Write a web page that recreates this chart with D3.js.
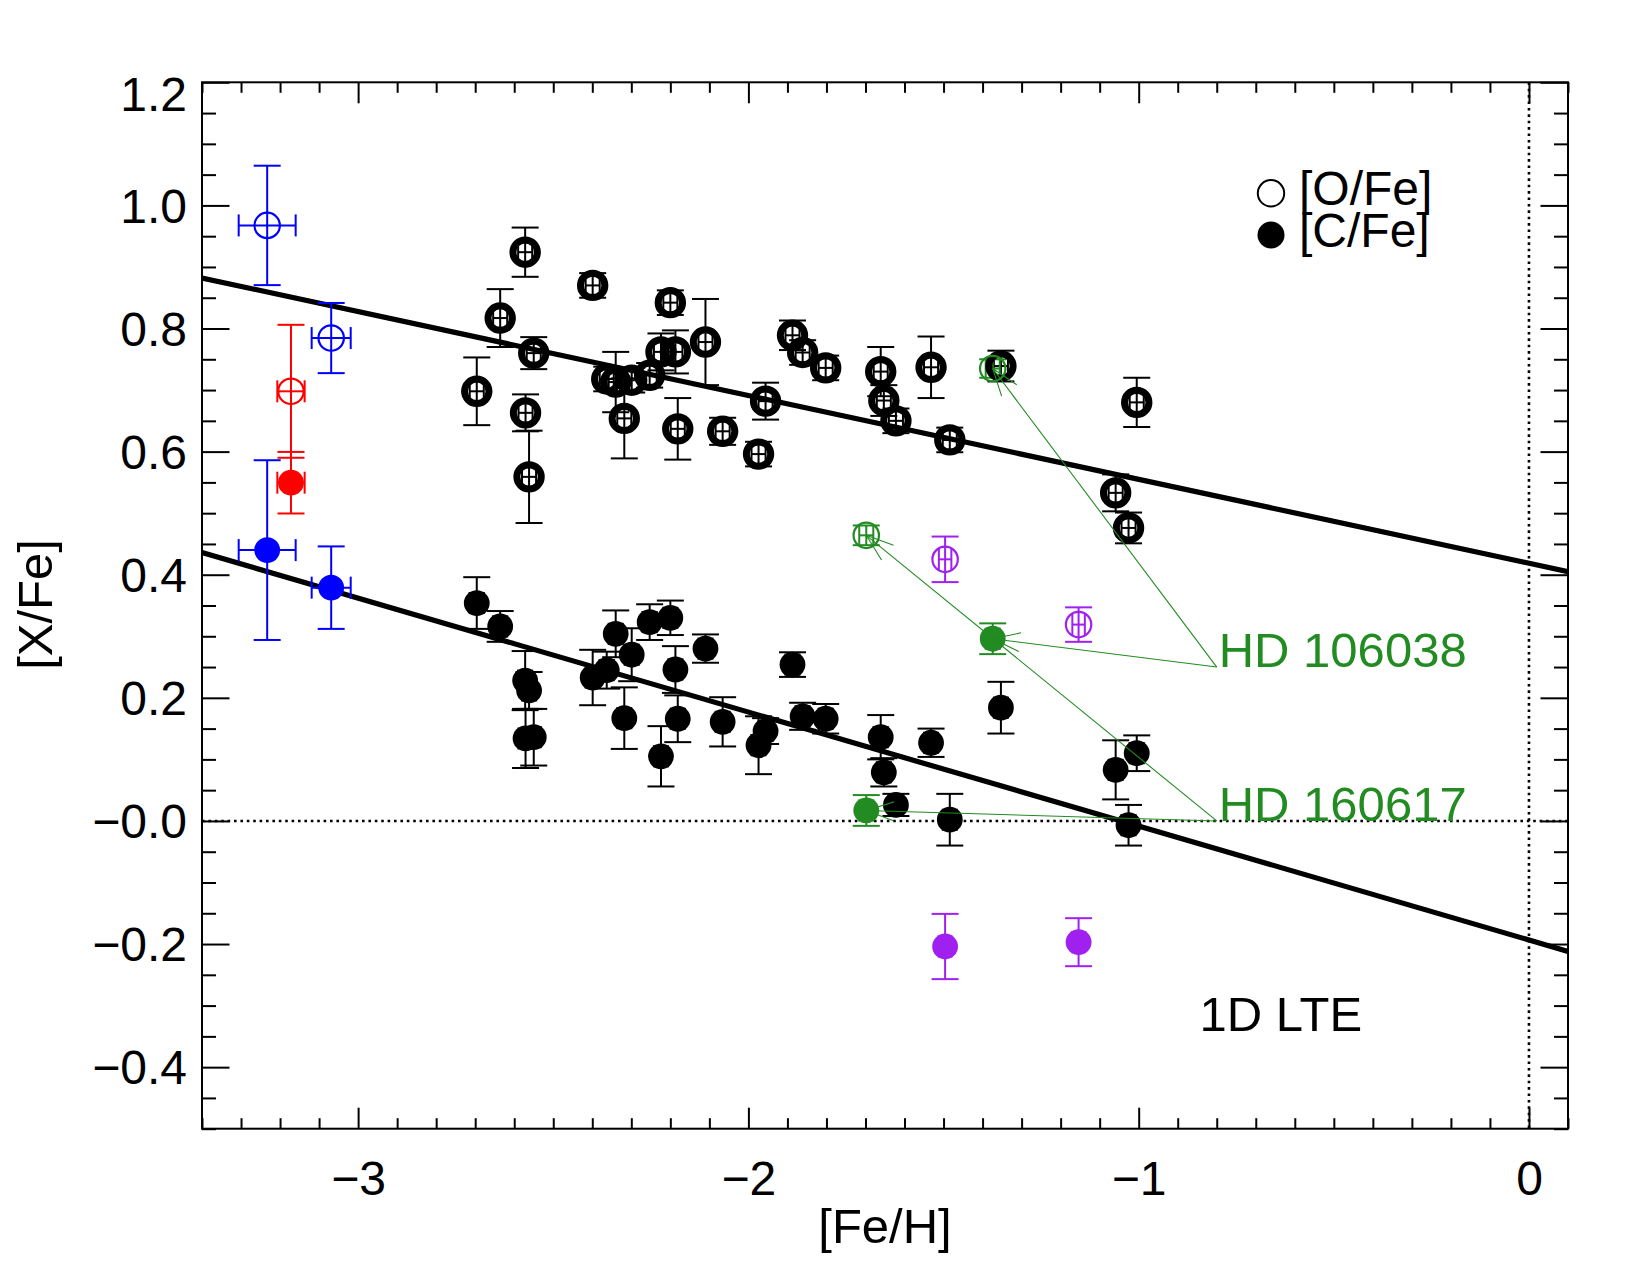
<!DOCTYPE html>
<html><head><meta charset="utf-8">
<script src="https://cdn.jsdelivr.net/npm/d3@7"></script>
<style>
body{margin:0;background:#fff;}
text{font-family:"Liberation Sans",Arial,Helvetica,sans-serif;}
</style></head><body>
<svg id="chart" width="1650" height="1275"></svg>
<script>
// ---- Main sample: [Fe/H], [O/Fe], [C/Fe] with errors ----
const feh    = [-2.696,-2.636,-2.572,-2.571,-2.562,-2.550,-2.399,-2.363,-2.340,-2.318,-2.299,-2.253,-2.224,-2.200,-2.187,-2.181,-2.110,-2.066,-1.974,-1.956,-1.887,-1.861,-1.802,-1.661,-1.653,-1.622,-1.532,-1.484,-1.353,-1.059,-1.026,-1.005];
const ofe    = [0.698,0.817,0.924,0.663,0.559,0.760,0.870,0.718,0.713,0.654,0.716,0.724,0.762,0.842,0.762,0.637,0.778,0.633,0.596,0.682,0.789,0.761,0.736,0.730,0.683,0.650,0.737,0.619,0.739,0.533,0.476,0.680];
const ofeErr = [0.055,0.047,0.040,0.030,0.075,0.026,0.020,0.020,0.049,0.065,0.020,0.020,0.030,0.020,0.035,0.050,0.070,0.022,0.020,0.030,0.024,0.020,0.020,0.040,0.025,0.020,0.050,0.020,0.025,0.030,0.025,0.040];
const cfe    = [0.354,0.316,0.228,0.134,0.212,0.136,0.233,0.245,0.304,0.167,0.270,0.323,0.105,0.330,0.246,0.166,0.280,0.161,0.123,0.146,0.254,0.170,0.166,0.136,0.079,0.026,0.127,0.002,0.184,0.083,-0.007,0.110];
const cfeErr = [0.042,0.025,0.048,0.048,0.030,0.046,0.045,0.030,0.038,0.050,0.043,0.029,0.049,0.028,0.038,0.038,0.023,0.040,0.047,0.021,0.020,0.022,0.024,0.036,0.023,0.018,0.023,0.042,0.042,0.048,0.033,0.029];
const fehErr = 0.018;

// ---- Highlighted stars ----
const specFeh    = [-3.233,-3.069,-3.172,-1.374,-1.698,-1.496,-1.154];
const specFehErr = [0.073,0.050,0.035,0.018,0.018,0.016,0.016];
const specOfe    = [0.9675,0.7845,0.698,0.735,0.464,0.425,0.319];
const specOfeErr = [0.097,0.057,0.108,0.015,0.016,0.037,0.028];
const specCfe    = [0.440,0.379,0.5495,0.296,0.017,-0.204,-0.197];
const specCfeErr = [0.146,0.067,0.050,0.025,0.025,0.053,0.039];
const specGroup  = ["g1","g1","g2","g3","g3","g4","g4"];

// ---- Linear fits ----
const fitFeh = [-3.4, 0.1];
const fitO   = [0.882, 0.405];
const fitC   = [0.436, -0.212];

// ---- Annotations ----
const annLabels = ["HD 106038","HD 160617"];
const annFeh    = [-0.80,-0.80];
const annY      = [0.25, 0.0];
const annStar   = [3, 4]; // index into highlighted stars

// ---- Axes ----
const xDomain = [-3.4, 0.1];
const yDomain = [-0.5, 1.2];
const xMajor = [-3,-2,-1,0];
const xTickLabels = ["\u22123","\u22122","\u22121","0"];
const yMajor = [1.2,1.0,0.8,0.6,0.4,0.2,0.0,-0.2,-0.4];
const yTickLabels = ["1.2","1.0","0.8","0.6","0.4","0.2","\u22120.0","\u22120.2","\u22120.4"];
const legendLabels = ["[O/Fe]","[C/Fe]"];
const xTitle = "[Fe/H]", yTitle = "[X/Fe]", cornerText = "1D LTE";

// ======== drawing ========
const L=202, R=1568, T=82.3, B=1128.7;
const FS = 48;
const svg = d3.select("#chart");
const x = d3.scaleLinear().domain(xDomain).range([L,R]);
const y = d3.scaleLinear().domain(yDomain).range([B,T]);
const color = d3.scaleOrdinal().domain(["g1","g2","g3","g4"]).range(["#0000ff","#ff0000","#228b22","#a020f0"]);
const green = color("g3");

const clipId="plotclip";
svg.append("clipPath").attr("id",clipId).append("rect").attr("x",L).attr("y",T).attr("width",R-L).attr("height",B-T);

// dotted reference lines
svg.append("line").attr("x1",L).attr("x2",R).attr("y1",y(0)).attr("y2",y(0))
  .attr("stroke","#000").attr("stroke-width",2.6).attr("stroke-dasharray","2.6 3.8");
svg.append("line").attr("x1",x(0)).attr("x2",x(0)).attr("y1",T).attr("y2",B)
  .attr("stroke","#000").attr("stroke-width",2.6).attr("stroke-dasharray","2.6 3.8");

// fits
const fitLine = d3.line().x(d=>x(d[0])).y(d=>y(d[1]));
[fitO, fitC].forEach(f=>{
  svg.append("path").attr("d", fitLine(fitFeh.map((v,i)=>[v,f[i]])))
    .attr("fill","none").attr("stroke","#000").attr("stroke-width",5.2).attr("clip-path",`url(#${clipId})`);
});

// error bars
const eg = svg.append("g");
function errBar(cx, cy, ex, ey, col){
  const px=x(cx), py=y(cy);
  const y1=y(cy-ey), y2=y(cy+ey), x1=x(cx-ex), x2=x(cx+ex);
  const capY=13.5, capX=11;
  const g = eg.append("g").attr("stroke",col).attr("stroke-width",2).attr("fill","none");
  g.append("line").attr("x1",px).attr("x2",px).attr("y1",y1).attr("y2",y2);
  g.append("line").attr("x1",px-capY).attr("x2",px+capY).attr("y1",y1).attr("y2",y1);
  g.append("line").attr("x1",px-capY).attr("x2",px+capY).attr("y1",y2).attr("y2",y2);
  g.append("line").attr("x1",x1).attr("x2",x2).attr("y1",py).attr("y2",py);
  g.append("line").attr("x1",x1).attr("x2",x1).attr("y1",py-capX).attr("y2",py+capX);
  g.append("line").attr("x1",x2).attr("x2",x2).attr("y1",py-capX).attr("y2",py+capX);
}
feh.forEach((f,i)=>{ errBar(f, ofe[i], fehErr, ofeErr[i], "#000"); errBar(f, cfe[i], fehErr, cfeErr[i], "#000"); });
specFeh.forEach((f,i)=>{ const c=color(specGroup[i]); errBar(f, specOfe[i], specFehErr[i], specOfeErr[i], c); errBar(f, specCfe[i], specFehErr[i], specCfeErr[i], c); });

// symbols
const sg = svg.append("g");
sg.selectAll("circle.o").data(feh).join("circle").attr("class","o")
  .attr("cx",d=>x(d)).attr("cy",(d,i)=>y(ofe[i])).attr("r",12.2)
  .attr("fill","none").attr("stroke","#000").attr("stroke-width",7);
sg.selectAll("circle.c").data(feh).join("circle").attr("class","c")
  .attr("cx",d=>x(d)).attr("cy",(d,i)=>y(cfe[i])).attr("r",12.9).attr("fill","#000");
sg.selectAll("circle.so").data(specFeh).join("circle").attr("class","so")
  .attr("cx",d=>x(d)).attr("cy",(d,i)=>y(specOfe[i])).attr("r",12.7)
  .attr("fill","none").attr("stroke",(d,i)=>color(specGroup[i])).attr("stroke-width",2.2);
sg.selectAll("circle.sc").data(specFeh).join("circle").attr("class","sc")
  .attr("cx",d=>x(d)).attr("cy",(d,i)=>y(specCfe[i])).attr("r",12.9)
  .attr("fill",(d,i)=>color(specGroup[i]));

// annotations
const ag = svg.append("g").attr("stroke",green).attr("stroke-width",1.1).attr("fill","none");
annLabels.forEach((lab,k)=>{
  const ax=x(annFeh[k]), ay=y(annY[k]);
  const s=annStar[k];
  [specOfe[s], specCfe[s]].forEach(v=>{
    const px=x(specFeh[s]), py=y(v);
    ag.append("line").attr("x1",ax).attr("y1",ay).attr("x2",px).attr("y2",py);
    const ang=Math.atan2(ay-py, ax-px), len=29, h=19*Math.PI/180;
    [ang-h, ang+h].forEach(a=>{
      ag.append("line").attr("x1",px).attr("y1",py).attr("x2",px+len*Math.cos(a)).attr("y2",py+len*Math.sin(a));
    });
  });
  svg.append("text").attr("x",ax+2).attr("y",ay).attr("fill",green)
    .attr("font-size",FS+1).text(lab);
});

// frame
svg.append("rect").attr("x",L).attr("y",T).attr("width",R-L).attr("height",B-T)
  .attr("fill","none").attr("stroke","#000").attr("stroke-width",2);

// axes
const xMinor = d3.range(-34,2).map(v=>v/10).filter(v=>!xMajor.some(m=>Math.abs(m-v)<1e-9));
const yMinor = d3.range(-10,25).map(v=>v/20).filter(v=>!yMajor.some(m=>Math.abs(m-v)<1e-9));
function styleAxis(g){ g.select(".domain").remove(); g.selectAll("line").attr("stroke","#000").attr("stroke-width",2);
  g.selectAll("text").attr("font-size",FS).attr("fill","#000").attr("font-family","'Liberation Sans',Arial,Helvetica,sans-serif"); }
const xt = 21, xtm = 10.5, yt = 27.5, ytm = 14;
svg.append("g").attr("transform",`translate(0,${B})`)
  .call(d3.axisBottom(x).tickValues(xMajor).tickSize(-xt).tickSizeOuter(0).tickPadding(32).tickFormat((d,i)=>xTickLabels[i])).call(styleAxis);
svg.append("g").attr("transform",`translate(0,${B})`)
  .call(d3.axisBottom(x).tickValues(xMinor).tickSize(-xtm).tickSizeOuter(0).tickFormat("")).call(styleAxis);
svg.append("g").attr("transform",`translate(0,${T})`)
  .call(d3.axisTop(x).tickValues(xMajor).tickSize(-xt).tickSizeOuter(0).tickFormat("")).call(styleAxis);
svg.append("g").attr("transform",`translate(0,${T})`)
  .call(d3.axisTop(x).tickValues(xMinor).tickSize(-xtm).tickSizeOuter(0).tickFormat("")).call(styleAxis);
const yl = svg.append("g").attr("transform",`translate(${L},0)`)
  .call(d3.axisLeft(y).tickValues(yMajor).tickSize(-yt).tickSizeOuter(0).tickPadding(15).tickFormat((d,i)=>yTickLabels[i])).call(styleAxis);
yl.selectAll(".tick text").attr("dy",d=>d===yDomain[1]?"0.58em":"0.35em");
svg.append("g").attr("transform",`translate(${L},0)`)
  .call(d3.axisLeft(y).tickValues(yMinor).tickSize(-ytm).tickSizeOuter(0).tickFormat("")).call(styleAxis);
svg.append("g").attr("transform",`translate(${R},0)`)
  .call(d3.axisRight(y).tickValues(yMajor).tickSize(-yt).tickSizeOuter(0).tickFormat("")).call(styleAxis);
svg.append("g").attr("transform",`translate(${R},0)`)
  .call(d3.axisRight(y).tickValues(yMinor).tickSize(-ytm).tickSizeOuter(0).tickFormat("")).call(styleAxis);

// titles
svg.append("text").attr("x",(L+R)/2).attr("y",1243).attr("text-anchor","middle").attr("font-size",FS+1).text(xTitle);
svg.append("text").attr("transform","translate(52,604.5) rotate(-90)").attr("text-anchor","middle").attr("font-size",FS+1).text(yTitle);
svg.append("text").attr("x",1199.6).attr("y",1031).attr("font-size",FS+1).text(cornerText);

// legend
const lg = svg.append("g");
const legY = [193.3, 235], legTY=[205, 247];
lg.append("circle").attr("cx",1271).attr("cy",legY[0]).attr("r",13.2).attr("fill","none").attr("stroke","#000").attr("stroke-width",2);
lg.append("circle").attr("cx",1271).attr("cy",legY[1]).attr("r",13.5).attr("fill","#000");
legendLabels.forEach((t,i)=>lg.append("text").attr("x",1299).attr("y",legTY[i]).attr("font-size",FS).text(t));
</script>
</body></html>
